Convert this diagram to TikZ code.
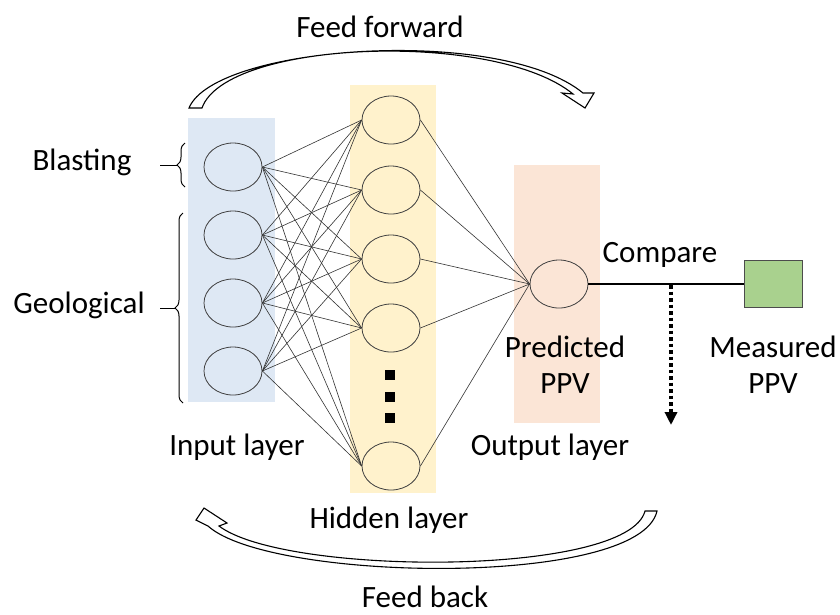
\documentclass[tikz,border=0pt]{standalone}
\usepackage{fontspec}
\setmainfont{Carlito}
\usetikzlibrary{shapes.geometric,arrows.meta,decorations.pathreplacing}

\definecolor{inputfill}{HTML}{DEE8F4}
\definecolor{hiddenfill}{HTML}{FFF2CC}
\definecolor{outputfill}{HTML}{FBE5D6}
\definecolor{measfill}{HTML}{A9D18E}

\begin{document}
\begin{tikzpicture}[x=1pt,y=-1pt,
  neuron/.style={ellipse, draw=black!75, line width=0.8pt,
    minimum width=58pt, minimum height=48pt, inner sep=0pt},
  link/.style={draw=black!80, line width=0.6pt},
  lbl/.style={font=\fontsize{31}{36}\selectfont, inner sep=0pt, align=center},
  flowarrow/.style={fill=white, draw=black, line width=1.1pt, line join=miter},
  dotbox/.style={fill=black, minimum size=10pt, inner sep=0pt},
  bracestyle/.style={draw=black, line width=1pt, decorate,
    decoration={brace, amplitude=8pt}}
]
\useasboundingbox (0,0) rectangle (840,614);

% layer backgrounds
\fill[inputfill]  (188,118) rectangle (275,402);
\fill[hiddenfill] (350,85)  rectangle (436,493);
\fill[outputfill] (514,165) rectangle (600,423);

% input neurons
\node[neuron] (i1) at (233,167) {};
\node[neuron] (i2) at (233,235) {};
\node[neuron] (i3) at (233,303) {};
\node[neuron] (i4) at (233,371) {};

% hidden neurons
\node[neuron] (h1) at (391,120) {};
\node[neuron] (h2) at (391,190) {};
\node[neuron] (h3) at (391,259) {};
\node[neuron] (h4) at (391,328) {};
\node[neuron] (h5) at (391,466) {};

% ellipsis in the hidden layer
\node[dotbox] (d1) at (390,375) {};
\node[dotbox] (d2) at (390,397) {};
\node[dotbox] (d3) at (390,418) {};

% output neuron and measured value
\node[neuron] (o) at (559,284) {};
\node[rectangle, draw=black!70, line width=1pt, fill=measfill,
  minimum width=58pt, minimum height=47pt, inner sep=0pt] (m) at (773,284) {};

% full connections
\foreach \i in {1,...,4}
  \foreach \h in {1,...,5}
    \draw[link] (i\i.east) -- (h\h.west);
\foreach \h in {1,...,5}
  \draw[link] (h\h.east) -- (o.west);

% comparison line and error drop
\draw[line width=1.6pt] (o.east) -- (m.west);
\coordinate (split) at (671,285);
\coordinate (drop) at (671,425);
\draw[line width=3.5pt, dash pattern=on 3.5pt off 3pt,
  -{Triangle[width=12pt,length=13pt]}] (split) -- (drop);

% input group braces
\draw[bracestyle] (185,187) -- (185,143);
\draw[line width=1pt] (177,165) -- (160,165);
\draw[bracestyle] (183,403) -- (183,213);
\draw[line width=1pt] (175,308) -- (160,308);

% feed forward arrow
\draw[flowarrow] (189,108) .. controls (215,45) and (500,25) .. (583,93)
  -- (594,93) -- (585,108) -- (562,93) -- (573,94)
  .. controls (495,30) and (226,40) .. (202,108) -- cycle;

% feed back arrow
\draw[flowarrow] (657,511) .. controls (640,588) and (270,582) .. (208,526)
  -- (196,520) -- (204,508) -- (227,523) -- (219,526)
  .. controls (285,576) and (628,577) .. (645,511) -- cycle;

% labels
\node[lbl] (tff) at (380,27) {Feed forward};
\node[lbl] (tfb) at (425,597) {Feed back};
\node[lbl] (tbl) at (82,162) {Blasting};
\node[lbl] (tge) at (79,305) {Geological};
\node[lbl] (tin) at (237,447) {Input layer};
\node[lbl] (thl) at (389,520) {Hidden layer};
\node[lbl] (tol) at (550,447) {Output layer};
\node[lbl] (tcm) at (660,255) {Compare};
\node[lbl] (tpr) at (565,365) {Predicted\\PPV};
\node[lbl] (tme) at (773,365) {Measured\\PPV};
\end{tikzpicture}
\end{document}
